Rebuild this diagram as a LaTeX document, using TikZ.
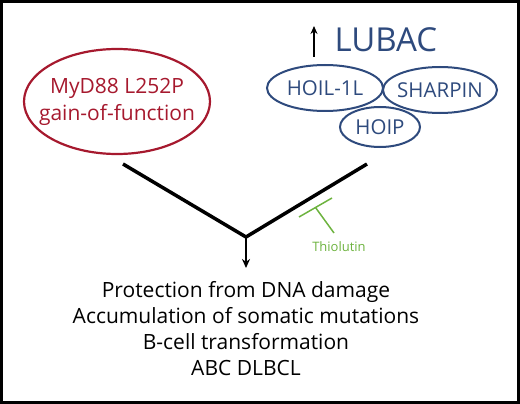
\documentclass[tikz,border=0pt]{standalone}
\usepackage{fontspec}
\setmainfont{Open Sans}
\usetikzlibrary{arrows.meta,shapes.geometric}
\definecolor{myred}{HTML}{A6192E}
\definecolor{myblue}{HTML}{2E4A7D}
\definecolor{mygreen}{HTML}{6DB33F}
\tikzset{
  redell/.style={ellipse, draw=myred, line width=2.2pt, minimum width=186pt, minimum height=105pt, inner sep=0pt},
  redtext/.style={text=myred, align=center, inner sep=0pt, font=\fontsize{21}{27}\selectfont},
  blueell/.style={ellipse, draw=myblue, line width=2pt, inner sep=0pt},
  bluetext/.style={text=myblue, inner sep=0pt, font=\fontsize{20.5}{20}\selectfont},
  mainline/.style={line width=3.5pt, black},
  outtext/.style={align=center, font=\fontsize{21}{26}\selectfont},
}
\begin{document}
\begin{tikzpicture}[x=1pt,y=-1pt]
\useasboundingbox (0,0) rectangle (520,404);
\draw[line width=3pt] (1.5,1.5) rectangle (518.5,402.5);
% left
\node[redell] (myd) at (117,101.5) {};
\node[redtext] (mydt) at (myd.center) {MyD88 L252P\\gain-of-function};
% LUBAC
\node[text=myblue, font=\fontsize{33}{33}\selectfont, anchor=west] (lubac) at (331,40) {LUBAC};
\coordinate (upb) at (314,57);
\coordinate (upt) at (314,26);
\draw[line width=1.6pt, -{Stealth[length=8pt,width=7pt]}] (upb) -- (upt);
\node[blueell, minimum width=116pt, minimum height=46pt] (hoil) at (325,88) {};
\node[blueell, minimum width=114pt, minimum height=46pt] (sharpin) at (440,90) {};
\node[blueell, minimum width=80pt, minimum height=40pt, fill=white] (hoip) at (380,127) {};
\node[bluetext] (hoilt) at (hoil.center) {HOIL-1L};
\node[bluetext] (sharpint) at (sharpin.center) {SHARPIN};
\node[bluetext] (hoipt) at (hoip.center) {HOIP};
% connectors
\coordinate (l1) at (123,164);
\coordinate (r1) at (367,164);
\coordinate (v) at (246,237);
\coordinate (arr) at (246,268);
\draw[mainline, line join=miter] (l1) -- (v) -- (r1);
\draw[line width=1.6pt, -{Stealth[length=9pt,width=8pt]}] (v) -- (arr);
% inhibition
\coordinate (b1) at (299,217);
\coordinate (b2) at (332,198);
\coordinate (bm) at (315.5,207.5);
\coordinate (bs) at (334,233);
\draw[mygreen, line width=1.5pt] (b1) -- (b2);
\draw[mygreen, line width=1.5pt] (bm) -- (bs);
\node[text=mygreen, font=\fontsize{13}{14}\selectfont] (thio) at (339,247) {Thiolutin};
% outcome
\node[outtext] (out) at (246,329) {Protection from DNA damage\\Accumulation of somatic mutations\\B-cell transformation\\ABC DLBCL};
\end{tikzpicture}
\end{document}
